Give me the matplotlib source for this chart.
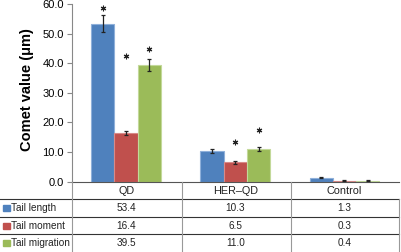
import matplotlib
matplotlib.use("Agg")
import matplotlib.pyplot as plt
from matplotlib.lines import Line2D
from matplotlib.patches import Rectangle
import matplotlib.transforms as mtransforms

plt.rcParams['font.family'] = ['Liberation Sans', 'DejaVu Sans']

# data
groups = ['QD', 'HER\u2013QD', 'Control']
series = ['Tail length', 'Tail moment', 'Tail migration']
tail_length = [53.4, 10.3, 1.3]
tail_moment = [16.4, 6.5, 0.3]
tail_migration = [39.5, 11.0, 0.4]
err_length = [2.8, 0.7, 0.2]
err_moment = [0.6, 0.5, 0.2]
err_migration = [2.0, 0.7, 0.1]
# asterisks: (group, series, height)
stars = [(0, 0, 58.5), (0, 1, 42.5), (0, 2, 44.9), (1, 1, 13.3), (1, 2, 17.5)]
colors = ['#4F81BD', '#C0504D', '#9BBB59']
edges = ['#8FB0DA', '#D88A88', '#C3D99A']

W, H = 401, 252
fig = plt.figure(figsize=(W / 100, H / 100), dpi=100)

def fx(px):
    return px / W

def fy(py):
    return 1 - py / H

ax_l, ax_r, ax_t, ax_b = 71.5, 399, 4, 181.7
ax = fig.add_axes([fx(ax_l), fy(ax_b), fx(ax_r - ax_l), (ax_b - ax_t) / H])

values = [tail_length, tail_moment, tail_migration]
errors = [err_length, err_moment, err_migration]
width = 0.213
x = list(range(len(groups)))
for i in range(3):
    xs = [k + (i - 1) * width for k in x]
    ax.bar(xs, values[i], width, color=colors[i], edgecolor=edges[i], linewidth=0.8, zorder=2)
    ax.errorbar(xs, values[i], yerr=errors[i], fmt='none', ecolor='#222222',
                elinewidth=0.9, capsize=1.5, capthick=0.9, zorder=3)

for g, s, h in stars:
    ax.plot(g + (s - 1) * width, h, marker=(6, 2, 0), markersize=4, mew=0.8,
            color='#222222', zorder=4)

ax.set_xlim(-0.5, 2.5)
ax.set_ylim(0, 60)
ax.set_yticks([0, 10, 20, 30, 40, 50, 60])
ax.set_yticklabels(['%.1f' % v for v in [0, 10, 20, 30, 40, 50, 60]])
ax.set_xticks([])
ax.tick_params(axis='y', length=3.5, width=0.8, color='#888888', labelsize=8, pad=2)
for side in ['top', 'right']:
    ax.spines[side].set_visible(False)
ax.spines['left'].set_color('#888888')
ax.spines['bottom'].set_color('#555555')
ax.spines['left'].set_linewidth(0.8)
ax.spines['bottom'].set_linewidth(0.8)

fig.text(fx(27), fy(89.5), 'Comet value (\u03bcm)', rotation=90, fontsize=10.5,
         fontweight='bold', ha='center', va='center')

# data table below the plot
row_lines = [199, 216.8, 234.4]
row_centers = [207.9, 225.6, 243.2]
header_y = 191
col_lines = [ax_l, 181.7, 290.7]

for yl in row_lines:
    fig.add_artist(Line2D([0, fx(ax_r)], [fy(yl), fy(yl)], color='#333333', lw=0.8))
for xl in col_lines:
    fig.add_artist(Line2D([fx(xl), fx(xl)], [fy(ax_b), 0], color='#999999', lw=0.8))
fig.add_artist(Line2D([fx(ax_r), fx(ax_r)], [fy(row_lines[0]), 0], color='#999999', lw=0.8))

trans = mtransforms.blended_transform_factory(ax.transData, fig.transFigure)
for k, name in enumerate(groups):
    fig.text(k, fy(header_y), name, transform=trans, ha='center', va='center',
             fontsize=7.8, color='#222222')
    for i in range(3):
        fig.text(k, fy(row_centers[i]), '%.1f' % values[i][k], transform=trans,
                 ha='center', va='center', fontsize=7.2, color='#222222')

for i, name in enumerate(series):
    yc = row_centers[i]
    fig.add_artist(Rectangle((fx(3.5), fy(yc + 3)), fx(6), 6 / H, color=colors[i]))
    fig.text(fx(11), fy(yc), name, ha='left', va='center', fontsize=7.2, color='#222222')

fig.savefig('out.png', dpi=100)
